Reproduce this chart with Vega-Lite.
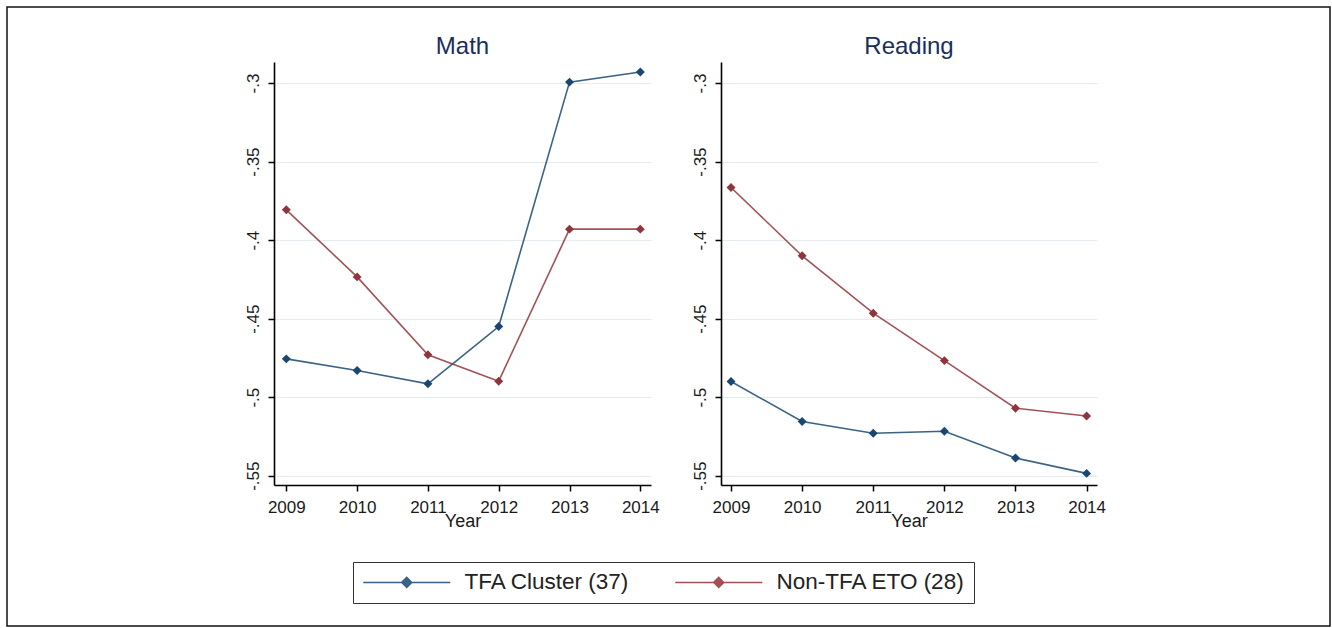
{
  "$schema": "https://vega.github.io/schema/vega-lite/v6.json",
  "background": "white",
  "padding": {"left": 7, "top": 7, "right": 0, "bottom": 0},
  "autosize": {"type": "pad"},
  "spacing": 70,
  "bounds": "flush",
  "data": {
    "values": [
      {"subject": "Math", "group": "TFA Cluster (37)", "year": 2009, "value": -0.4756},
      {"subject": "Math", "group": "TFA Cluster (37)", "year": 2010, "value": -0.483},
      {"subject": "Math", "group": "TFA Cluster (37)", "year": 2011, "value": -0.4915},
      {"subject": "Math", "group": "TFA Cluster (37)", "year": 2012, "value": -0.455},
      {"subject": "Math", "group": "TFA Cluster (37)", "year": 2013, "value": -0.2994},
      {"subject": "Math", "group": "TFA Cluster (37)", "year": 2014, "value": -0.293},
      {"subject": "Math", "group": "Non-TFA ETO (28)", "year": 2009, "value": -0.3807},
      {"subject": "Math", "group": "Non-TFA ETO (28)", "year": 2010, "value": -0.4234},
      {"subject": "Math", "group": "Non-TFA ETO (28)", "year": 2011, "value": -0.473},
      {"subject": "Math", "group": "Non-TFA ETO (28)", "year": 2012, "value": -0.4898},
      {"subject": "Math", "group": "Non-TFA ETO (28)", "year": 2013, "value": -0.393},
      {"subject": "Math", "group": "Non-TFA ETO (28)", "year": 2014, "value": -0.393},
      {"subject": "Reading", "group": "TFA Cluster (37)", "year": 2009, "value": -0.49},
      {"subject": "Reading", "group": "TFA Cluster (37)", "year": 2010, "value": -0.5155},
      {"subject": "Reading", "group": "TFA Cluster (37)", "year": 2011, "value": -0.523},
      {"subject": "Reading", "group": "TFA Cluster (37)", "year": 2012, "value": -0.5217},
      {"subject": "Reading", "group": "TFA Cluster (37)", "year": 2013, "value": -0.5387},
      {"subject": "Reading", "group": "TFA Cluster (37)", "year": 2014, "value": -0.5485},
      {"subject": "Reading", "group": "Non-TFA ETO (28)", "year": 2009, "value": -0.3665},
      {"subject": "Reading", "group": "Non-TFA ETO (28)", "year": 2010, "value": -0.41},
      {"subject": "Reading", "group": "Non-TFA ETO (28)", "year": 2011, "value": -0.4465},
      {"subject": "Reading", "group": "Non-TFA ETO (28)", "year": 2012, "value": -0.4767},
      {"subject": "Reading", "group": "Non-TFA ETO (28)", "year": 2013, "value": -0.507},
      {"subject": "Reading", "group": "Non-TFA ETO (28)", "year": 2014, "value": -0.512}
    ]
  },
  "hconcat": [
    {
      "title": {"text": "Math"},
      "width": 377,
      "height": 423,
      "transform": [{"filter": "datum.subject === 'Math'"}],
      "encoding": {
        "x": {"field": "year", "type": "quantitative", "scale": {"domain": [2008.826, 2014.151], "nice": false, "zero": false}, "axis": {"values": [2009, 2010, 2011, 2012, 2013, 2014], "format": "d", "title": "Year"}},
        "y": {"field": "value", "type": "quantitative", "scale": {"domain": [-0.5559, -0.2866], "nice": false, "zero": false}, "axis": {"values": [-0.55, -0.5, -0.45, -0.4, -0.35, -0.3], "labelExpr": "replace(replace(format(datum.value, '.2~f'), '0.', '.'), '\u2212', '-')", "title": null}},
        "color": {"field": "group", "type": "nominal", "scale": {"domain": ["TFA Cluster (37)", "Non-TFA ETO (28)"], "range": ["#1a476f", "#90353b"]},
          "legend": {"orient": "none", "legendX": 79, "legendY": 500, "direction": "horizontal", "title": null, "strokeColor": "#333333", "padding": 9, "columnPadding": 42, "labelOffset": 80, "labelFontSize": 22.5, "labelFont": "Liberation Sans", "labelColor": "#222222", "labelLimit": 400, "symbolType": "M-1,0L7.7,0M2.85,0L3.35,-0.5L3.85,0L3.35,0.5Z", "symbolSize": 400, "symbolStrokeWidth": 1.5,
            "encode": {"legend": {"update": {"strokeWidth": {"value": 1.5}}}, "symbols": {"update": {"fill": {"scale": "color", "field": "value"}, "stroke": {"scale": "color", "field": "value"}, "opacity": {"value": 1}}}}}}
      },
      "layer": [
        {"mark": {"type": "line", "strokeWidth": 1.6, "opacity": 0.85}},
        {"mark": {"type": "point", "shape": "diamond", "filled": true, "size": 80, "opacity": 1}},
        {"mark": {"type": "point", "opacity": 0, "filled": true},
         "encoding": {"fill": {"field": "value", "type": "quantitative", "scale": {"range": ["rgba(0,0,0,0)", "rgba(0,0,0,0)"]},
           "legend": {"type": "gradient", "orient": "none", "legendX": -267, "legendY": -55, "direction": "horizontal", "title": null, "padding": 0, "values": [], "gradientLength": 1323, "gradientThickness": 619, "gradientStrokeColor": "#111111", "gradientStrokeWidth": 1.5, "labelFontSize": 0}}}}
      ]
    },
    {
      "title": {"text": "Reading"},
      "width": 376,
      "height": 423,
      "transform": [{"filter": "datum.subject === 'Reading'"}],
      "encoding": {
        "x": {"field": "year", "type": "quantitative", "scale": {"domain": [2008.859, 2014.146], "nice": false, "zero": false}, "axis": {"values": [2009, 2010, 2011, 2012, 2013, 2014], "format": "d", "title": "Year"}},
        "y": {"field": "value", "type": "quantitative", "scale": {"domain": [-0.5559, -0.2866], "nice": false, "zero": false}, "axis": {"values": [-0.55, -0.5, -0.45, -0.4, -0.35, -0.3], "labelExpr": "replace(replace(format(datum.value, '.2~f'), '0.', '.'), '\u2212', '-')", "title": null}},
        "color": {"field": "group", "type": "nominal"}
      },
      "layer": [
        {"mark": {"type": "line", "strokeWidth": 1.6, "opacity": 0.85}},
        {"mark": {"type": "point", "shape": "diamond", "filled": true, "size": 80, "opacity": 1}}
      ]
    }
  ],
  "resolve": {"scale": {"x": "independent", "y": "independent"}},
  "config": {
    "font": "Liberation Sans",
    "view": {"stroke": null},
    "title": {"fontSize": 24, "fontWeight": "normal", "color": "#1c2e5c", "font": "Liberation Sans", "anchor": "middle", "baseline": "alphabetic", "offset": 3},
    "axis": {"domainColor": "#000000", "domainWidth": 1.6, "tickColor": "#000000", "tickWidth": 1.5, "tickSize": 6, "labelFont": "Liberation Sans", "labelFontSize": 17, "labelColor": "#1a1a1a", "titleFont": "Liberation Sans", "titleFontSize": 18, "titleFontWeight": "normal", "titleColor": "#1a1a1a"},
    "axisX": {"grid": false, "labelPadding": 8, "titleBaseline": "alphabetic", "titleY": 41},
    "axisY": {"grid": true, "gridColor": "#e4ebf1", "gridWidth": 1, "labelAngle": -90, "labelAlign": "center", "labelBaseline": "bottom", "labelPadding": 6}
  }
}
